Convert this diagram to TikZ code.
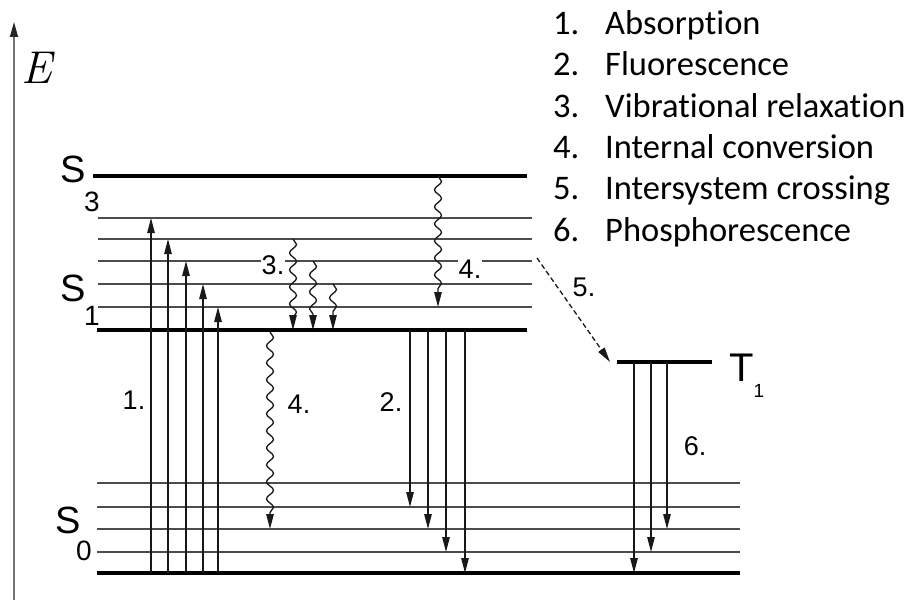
\documentclass[tikz,border=0pt]{standalone}
\usepackage{fontspec}
\newfontfamily\arialf{Liberation Sans}
\newfontfamily\calib[Ligatures=NoCommon]{Carlito}
\usetikzlibrary{arrows.meta,decorations.pathmorphing}
\begin{document}
\begin{tikzpicture}[x=1pt,y=-1pt,
  level/.style={line width=3.8pt, black},
  vib/.style={line width=1.2pt, black!70},
  trans/.style={line width=1.3pt, black!90, -{Triangle[length=15pt,width=7.5pt]}},
  wig/.style={trans, decorate, decoration={snake, amplitude=3.5pt, segment length=17pt, post length=12pt}},
  isc/.style={trans, dashed, dash pattern=on 5pt off 3pt},
  lab/.style={font=\arialf\fontsize{27}{27}\selectfont, inner sep=1pt},
  stl/.style={font=\arialf\fontsize{38}{38}\selectfont, inner sep=0pt},
  sub/.style={font=\arialf\fontsize{28}{28}\selectfont, inner sep=0pt},
  leg/.style={font=\calib\fontsize{34.5}{34.5}\selectfont, anchor=base west, inner sep=0pt}]
\useasboundingbox (0,0) rectangle (910,604);

% energy axis
\coordinate (ax0) at (14,600);
\coordinate (ax1) at (14,22);
\draw[line width=1.3pt, black!55, -{Triangle[length=15pt,width=8pt,color=black!85]}] (ax0) -- (ax1);
\node[font=\itshape\fontsize{46}{46}\selectfont, inner sep=0pt] (E) at (37,68) {E};

% vibrational sublevels S1
\foreach \y [count=\i] in {218,239,261,284,307} {
  \coordinate (s1v\i l) at (98,\y);
  \coordinate (s1v\i r) at (532,\y);
  \draw[vib] (s1v\i l) -- (s1v\i r);
}
% vibrational sublevels S0
\foreach \y [count=\i] in {483,507,529,552} {
  \coordinate (s0v\i l) at (97,\y);
  \coordinate (s0v\i r) at (740,\y);
  \draw[vib] (s0v\i l) -- (s0v\i r);
}
% main levels
\coordinate (S3l) at (93,176); \coordinate (S3r) at (527,176);
\coordinate (S1l) at (97,330); \coordinate (S1r) at (527,330);
\coordinate (S0l) at (97,573); \coordinate (S0r) at (740,573);
\coordinate (T1l) at (617,362); \coordinate (T1r) at (712,362);
\draw[level] (S3l) -- (S3r);
\draw[level] (S1l) -- (S1r);
\draw[level] (S0l) -- (S0r);
\draw[level] (T1l) -- (T1r);

% level labels
\node[stl] (S3) at (73,169) {S};
\node[sub] (S3s) at (92,202) {3};
\node[stl] (S1) at (73,288) {S};
\node[sub] (S1s) at (92,316) {1};
\node[stl] (S0) at (68,520) {S};
\node[sub] (S0s) at (84,551) {0};
\node[font=\arialf\fontsize{40}{40}\selectfont, inner sep=0pt] (T) at (742,368) {T};
\node[font=\arialf\fontsize{19}{19}\selectfont, inner sep=0pt] (Ts) at (759,391) {1};

% 1. absorption
\foreach \x/\y [count=\i] in {151/218,168/239,186/261,203/284,218/307} {
  \coordinate (ab\i a) at (\x,573);
  \coordinate (ab\i b) at (\x,\y);
  \draw[trans] (ab\i a) -- (ab\i b);
}
% 3. vibrational relaxation
\foreach \x/\y [count=\i] in {293/239,313/261,333/284} {
  \coordinate (vr\i a) at (\x,\y);
  \coordinate (vr\i b) at (\x,330);
  \draw[wig] (vr\i a) -- (vr\i b);
}
% 4. internal conversion
\coordinate (ic1a) at (438,176); \coordinate (ic1b) at (438,307);
\draw[wig] (ic1a) -- (ic1b);
\coordinate (ic2a) at (270,332); \coordinate (ic2b) at (270,529);
\draw[wig] (ic2a) -- (ic2b);
% 2. fluorescence
\foreach \x/\y [count=\i] in {410/507,428/529,446/552,465/573} {
  \coordinate (fl\i a) at (\x,330);
  \coordinate (fl\i b) at (\x,\y);
  \draw[trans] (fl\i a) -- (fl\i b);
}
% 6. phosphorescence
\foreach \x/\y [count=\i] in {634/573,651/552,667/529} {
  \coordinate (ph\i a) at (\x,362);
  \coordinate (ph\i b) at (\x,\y);
  \draw[trans] (ph\i a) -- (ph\i b);
}
% 5. intersystem crossing
\coordinate (isca) at (537,258); \coordinate (iscb) at (610,362);
\draw[isc] (isca) -- (iscb);

% transition labels
\node[lab] (l1) at (134,400) {1.};
\node[lab] (l2) at (391,402) {2.};
\node[lab, fill=white] (l3) at (273,265) {3.};
\node[lab, fill=white] (l4a) at (470,269) {4.};
\node[lab] (l4b) at (299,404) {4.};
\node[lab] (l5) at (584,287) {5.};
\node[lab] (l6) at (695,446) {6.};

% legend
\foreach \t/\y [count=\i] in {Absorption/35,Fluorescence/76,Vibrational relaxation/117.5,Internal conversion/158.5,Intersystem crossing/200,Phosphorescence/241} {
  \node[leg] (n\i) at (553,\y) {\i.};
  \node[leg] (t\i) at (605,\y) {\t};
}
\end{tikzpicture}
\end{document}
